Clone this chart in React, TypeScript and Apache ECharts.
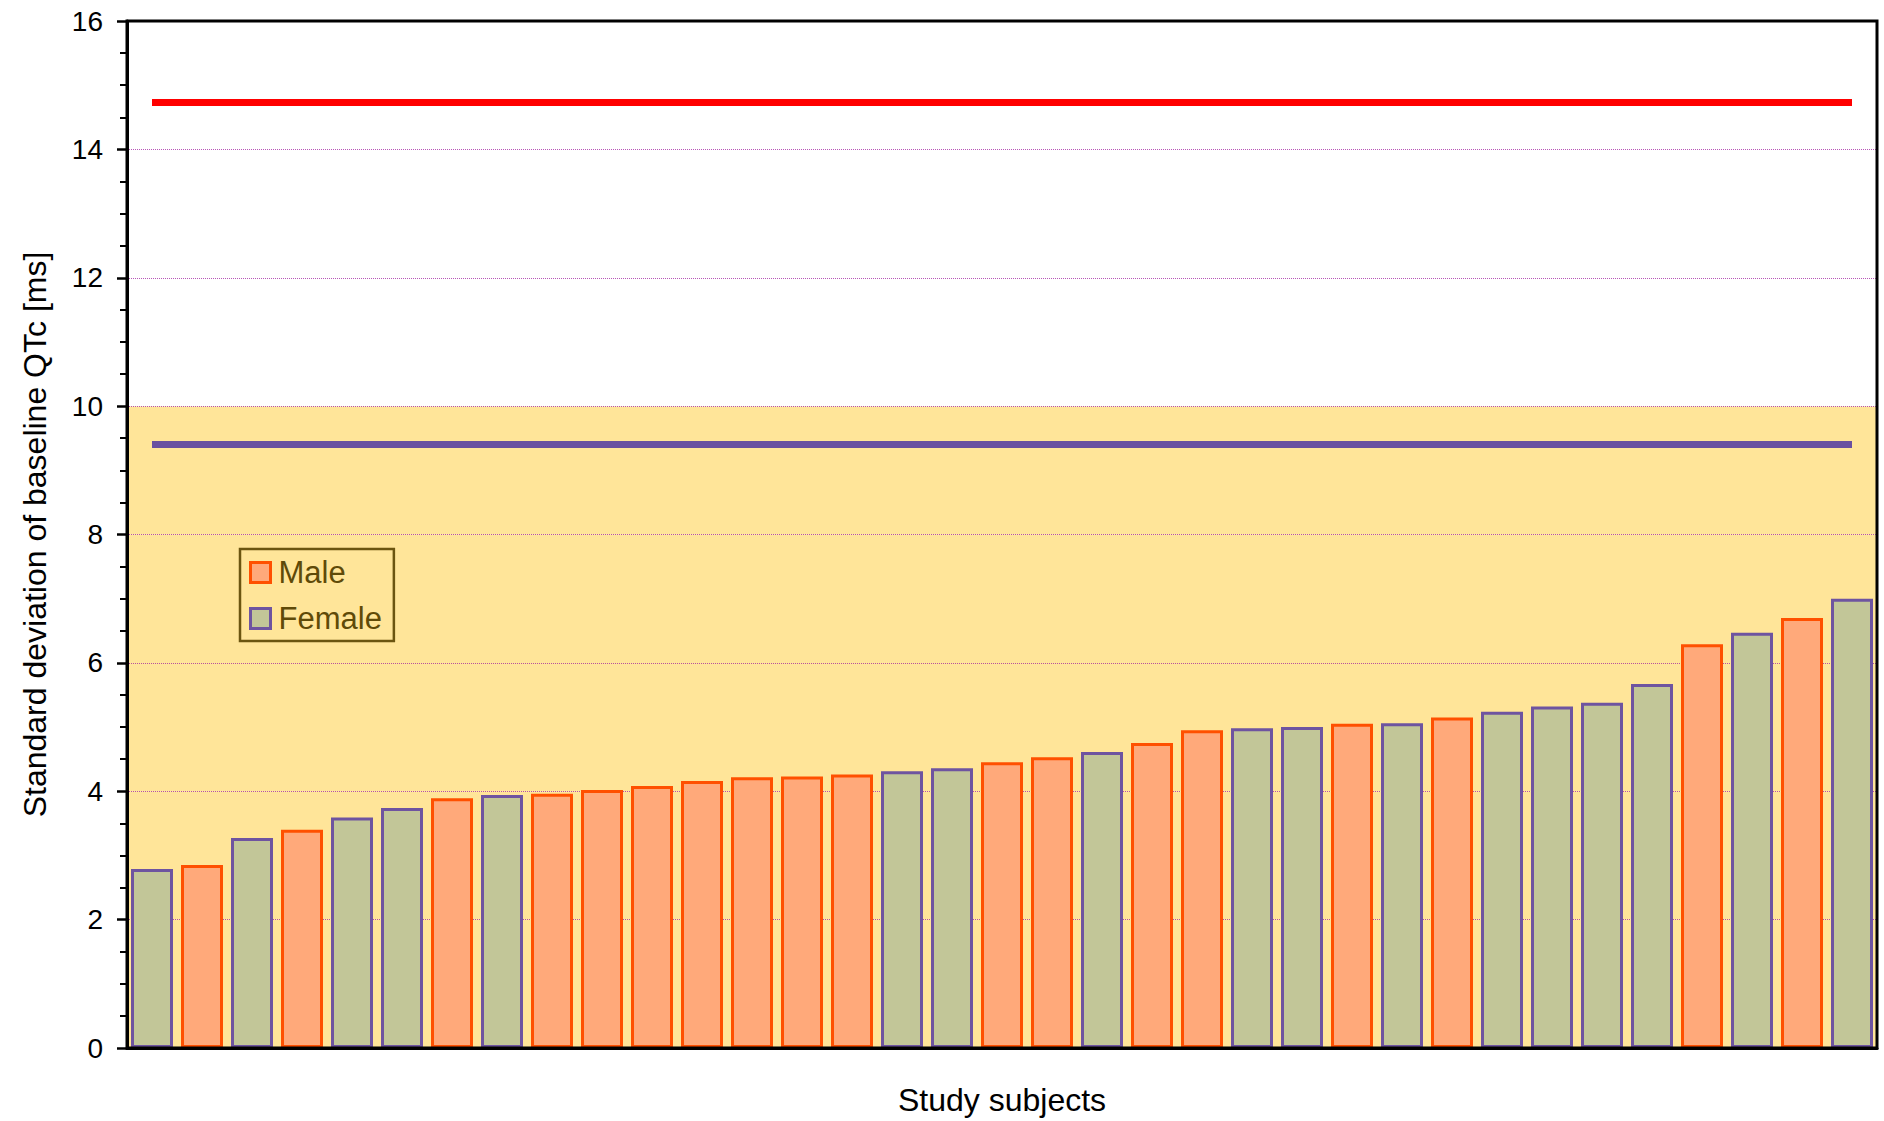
import React, { useEffect, useRef } from "react";
import * as echarts from "echarts";

// ---- data ----
const subjects: string[] = Array.from({ length: 35 }, (_, i) => `S${i + 1}`);
const sdValues: number[] = [
  2.79, 2.85, 3.27, 3.4, 3.59, 3.74, 3.89, 3.94, 3.96, 4.02,
  4.08, 4.16, 4.22, 4.23, 4.26, 4.31, 4.36, 4.45, 4.53, 4.61,
  4.75, 4.95, 4.98, 5.0, 5.05, 5.06, 5.15, 5.24, 5.32, 5.38,
  5.67, 6.29, 6.47, 6.7, 7.0,
];
const sexes: string[] = [
  "F", "M", "F", "M", "F", "F", "M", "F", "M", "M",
  "M", "M", "M", "M", "M", "F", "F", "M", "M", "F",
  "M", "M", "F", "F", "M", "F", "M", "F", "F", "F",
  "F", "M", "F", "M", "F",
];
const redLineValue = 14.73;
const purpleLineValue = 9.4;
const yTicks = { min: 0, max: 16, interval: 2 };

const FONT = "'Liberation Sans', Arial, sans-serif";

export default function App() {
  const ref = useRef<HTMLDivElement>(null);

  useEffect(() => {
    if (!ref.current) return;
    const chart = echarts.init(ref.current, undefined, { renderer: "svg" });

    const maleData = sdValues.map((v, i) => (sexes[i] === "M" ? v : "-"));
    const femaleData = sdValues.map((v, i) => (sexes[i] === "F" ? v : "-"));

    const maleStyle = { color: "#FFA97A", borderColor: "#FF5000", borderWidth: 3 };
    const femaleStyle = { color: "#C2C698", borderColor: "#6E54A0", borderWidth: 3 };

    const band = "#FFE599";
    const option: any = {
      animation: false,
      backgroundColor: "#ffffff",
      textStyle: { fontFamily: FONT },
      grid: {
        left: 127,
        right: 7,
        top: 21,
        bottom: 72,
        show: true,
        backgroundColor: "transparent",
        borderColor: "#000",
        borderWidth: 3,
        z: 10,
      },
      legend: {
        orient: "vertical",
        left: 240,
        top: 549,
        padding: [8, 12, 7, 9],
        borderColor: "#6B5510",
        borderWidth: 2.5,
        backgroundColor: "transparent",
        itemWidth: 20,
        itemHeight: 20,
        itemGap: 15,
        icon: "rect",
        textStyle: { fontFamily: FONT, fontSize: 31, color: "#5F4A08", padding: [0, 0, 0, 3] },
        data: [
          { name: "Male", itemStyle: maleStyle },
          { name: "Female", itemStyle: femaleStyle },
        ],
      },
      xAxis: {
        type: "category",
        data: subjects,
        name: "Study subjects",
        nameLocation: "middle",
        nameGap: 36,
        nameTextStyle: { fontFamily: FONT, fontSize: 32, color: "#000" },
        axisLine: { show: true, lineStyle: { color: "#000", width: 3 } },
        axisTick: { show: false },
        axisLabel: { show: false },
        splitLine: { show: false },
        z: 5,
      },
      yAxis: {
        type: "value",
        min: yTicks.min,
        max: yTicks.max,
        interval: yTicks.interval,
        name: "Standard deviation of baseline QTc [ms]",
        nameLocation: "middle",
        nameRotate: 90,
        nameGap: 76,
        nameTextStyle: { fontFamily: FONT, fontSize: 32, color: "#000" },
        axisLine: { show: true, lineStyle: { color: "#000", width: 3 } },
        axisTick: { show: true, inside: false, length: 10, lineStyle: { color: "#000", width: 2.5 } },
        minorTick: { show: true, splitNumber: 4, length: 7, lineStyle: { color: "#000", width: 2 } },
        axisLabel: { fontFamily: FONT, fontSize: 28, color: "#000", margin: 24 },
        splitLine: {
          show: true,
          lineStyle: { color: "rgba(160,30,160,0.75)", width: 1, type: [1, 1] },
        },
        splitArea: {
          show: true,
          areaStyle: {
            color: [band, band, band, band, band, "#ffffff", "#ffffff", "#ffffff"],
          },
        },
        z: 1,
      },
      series: [
        {
          name: "Male",
          type: "bar",
          data: maleData,
          barGap: "-100%",
          barCategoryGap: "16%",
          itemStyle: maleStyle,
          z: 3,
        },
        {
          name: "Female",
          type: "bar",
          data: femaleData,
          barGap: "-100%",
          barCategoryGap: "16%",
          itemStyle: femaleStyle,
          z: 3,
          markLine: {
            silent: true,
            symbol: ["none", "none"],
            label: { show: false },
            z: 6,
            data: [
              [
                { coord: [subjects[0], redLineValue], lineStyle: { color: "#FF0000", width: 7, type: "solid" } },
                { coord: [subjects[subjects.length - 1], redLineValue] },
              ],
              [
                { coord: [subjects[0], purpleLineValue], lineStyle: { color: "#6A50A0", width: 7, type: "solid" } },
                { coord: [subjects[subjects.length - 1], purpleLineValue] },
              ],
            ],
          },
        },
      ],
    };

    chart.setOption(option);
    return () => chart.dispose();
  }, []);

  return (
    <div
      ref={ref}
      style={{ position: "fixed", left: 0, top: 0, width: 1884, height: 1121, background: "#fff" }}
    />
  );
}
